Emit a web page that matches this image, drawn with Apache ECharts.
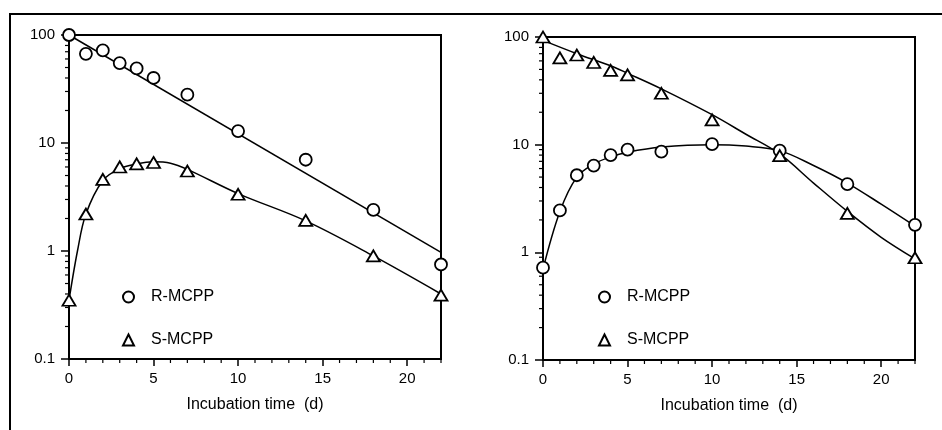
<!DOCTYPE html>
<html>
<head>
<meta charset="utf-8">
<script src="https://cdn.jsdelivr.net/npm/echarts@6/dist/echarts.min.js"></script>
<style>html,body{margin:0;padding:0;background:#fff}#c{width:942px;height:430px}</style>
</head>
<body>
<div id="c"></div>
<script>
// ---- data ----
const days = [0, 1, 2, 3, 4, 5, 7, 10, 14, 18, 22];
const leftR = [100, 67, 72, 55, 49, 40, 28, 12.9, 7.0, 2.4, 0.75];
const leftS = [0.35, 2.2, 4.6, 6.0, 6.4, 6.6, 5.5, 3.35, 1.92, 0.90, 0.39];
const rightR = [0.72, 2.45, 5.2, 6.4, 8.0, 9.0, 8.6, 10.1, 8.8, 4.3, 1.8];
const rightS = [100, 64, 68, 58, 49, 44.5, 30, 17, 7.9, 2.3, 0.89];

const leftRFitX = [0, 22];
const leftRFit = [100, 0.97];
const leftSFitX = [0, 0.5, 1, 2, 3, 4, 5, 6, 7, 10, 14, 18, 22];
const leftSFit = [0.35, 1.0, 2.2, 4.5, 5.8, 6.4, 6.7, 6.5, 5.7, 3.4, 1.9, 0.9, 0.4];
const rightRFitX = [0, 1, 2, 3, 4, 5, 7, 10, 12, 14, 16, 18, 20, 22];
const rightRFit = [0.7, 2.4, 5.0, 6.6, 7.7, 8.5, 9.5, 10, 9.7, 8.8, 6.4, 4.4, 2.8, 1.75];
const rightSFitX = [0, 2, 4, 5, 7, 10, 12, 14, 16, 18, 20, 22];
const rightSFit = [93, 70, 54, 46, 33, 19, 12.5, 8.2, 4.4, 2.4, 1.38, 0.87];

const xMajorTicks = [0, 5, 10, 15, 20];
const xMinorTicks = [1,2,3,4,6,7,8,9,11,12,13,14,16,17,18,19,21,22];
const yMinorTicks = [0.2,0.3,0.4,0.5,0.6,0.7,0.8,0.9,2,3,4,5,6,7,8,9,20,30,40,50,60,70,80,90];
const xName = 'Incubation time  (d)';
const names = ['R-MCPP', 'S-MCPP'];

// ---- build ----
const FONT = 'Liberation Sans';
const zip = (xs, ys) => xs.map((x, i) => [x, ys[i]]);

function xAxis(gi) {
  return {
    type: 'value', gridIndex: gi, min: 0, max: 22, interval: 5, position: 'bottom',
    name: xName, nameLocation: 'middle', nameGap: 38,
    nameTextStyle: { fontFamily: FONT, fontSize: 16, color: '#000' },
    axisLine: { show: true, lineStyle: { color: '#000', width: 2 } },
    axisTick: { show: true, customValues: xMajorTicks, length: 7, lineStyle: { color: '#000', width: 1.5 } },
    axisLabel: { customValues: xMajorTicks, margin: 12, fontFamily: FONT, fontSize: 15, color: '#000' },
    splitLine: { show: false }
  };
}
function yAxis(gi) {
  return {
    type: 'log', logBase: 10, gridIndex: gi, min: 0.1, max: 100, position: 'left',
    axisLine: { show: true, lineStyle: { color: '#000', width: 2 } },
    axisTick: { show: true, length: 8, lineStyle: { color: '#000', width: 1.5 } },
    axisLabel: { margin: 14, fontFamily: FONT, fontSize: 15, color: '#000', formatter: v => String(v) },
    splitLine: { show: false }
  };
}

// minor ticks drawn through the axes' own scales
const minorTickData = [
  ...xMinorTicks.map(t => [t, 0.1, 0]),
  ...yMinorTicks.map(v => [0, v, 1])
];
function minorTicks(gi) {
  return {
    type: 'custom', xAxisIndex: gi, yAxisIndex: gi, silent: true, clip: false, z: 1,
    data: minorTickData,
    renderItem: (params, api) => {
      const p = api.coord([api.value(0), api.value(1)]);
      const isY = api.value(2) === 1;
      const shape = isY ? { x1: p[0] - 4, y1: p[1], x2: p[0], y2: p[1] }
                        : { x1: p[0], y1: p[1], x2: p[0], y2: p[1] + 4 };
      return { type: 'line', shape, style: { stroke: '#000', lineWidth: 1.2 } };
    }
  };
}

const markerStyle = { color: '#fff', borderColor: '#000', borderWidth: 1.8, opacity: 1 };
function scatter(name, sym, gi, data) {
  return { type: 'scatter', name, symbol: sym, symbolSize: sym === 'circle' ? 12 : [13, 11],
    xAxisIndex: gi, yAxisIndex: gi, data, itemStyle: markerStyle, z: 5, clip: false };
}
function fit(name, gi, data, smooth) {
  return { type: 'line', name, xAxisIndex: gi, yAxisIndex: gi, data, showSymbol: false,
    smooth, lineStyle: { color: '#000', width: 1.5 }, z: 3, silent: true, clip: false };
}

const legendText = { fontFamily: FONT, fontSize: 16, color: '#000', padding: [0, 0, 0, 12] };
const option = {
  animation: false,
  backgroundColor: '#fff',
  grid: [
    { left: 69, right: 501, top: 35, bottom: 71, show: true, borderColor: '#000', borderWidth: 2 },
    { left: 543, right: 27, top: 37, bottom: 70, show: true, borderColor: '#000', borderWidth: 2 }
  ],
  xAxis: [xAxis(0), xAxis(1)],
  yAxis: [yAxis(0), yAxis(1)],
  legend: [
    { data: names, orient: 'vertical', left: 117, top: 284, itemGap: 27, itemWidth: 11, itemHeight: 11,
      textStyle: legendText, selectedMode: false },
    { data: names, orient: 'vertical', left: 593, top: 284, itemGap: 27, itemWidth: 11, itemHeight: 11,
      textStyle: legendText, selectedMode: false }
  ],
  graphic: [
    { type: 'polyline', shape: { points: [[10, 430], [10, 14], [942, 14]] },
      style: { stroke: '#000', lineWidth: 2, fill: null } }
  ],
  series: [
    minorTicks(0),
    minorTicks(1),
    fit('R fit L', 0, zip(leftRFitX, leftRFit), false),
    fit('S fit L', 0, zip(leftSFitX, leftSFit), 0.35),
    fit('R fit R', 1, zip(rightRFitX, rightRFit), 0.35),
    fit('S fit R', 1, zip(rightSFitX, rightSFit), 0.35),
    scatter(names[0], 'circle', 0, zip(days, leftR)),
    scatter(names[1], 'triangle', 0, zip(days, leftS)),
    scatter(names[0], 'circle', 1, zip(days, rightR)),
    scatter(names[1], 'triangle', 1, zip(days, rightS))
  ]
};
echarts.init(document.getElementById('c')).setOption(option);
</script>
</body>
</html>
